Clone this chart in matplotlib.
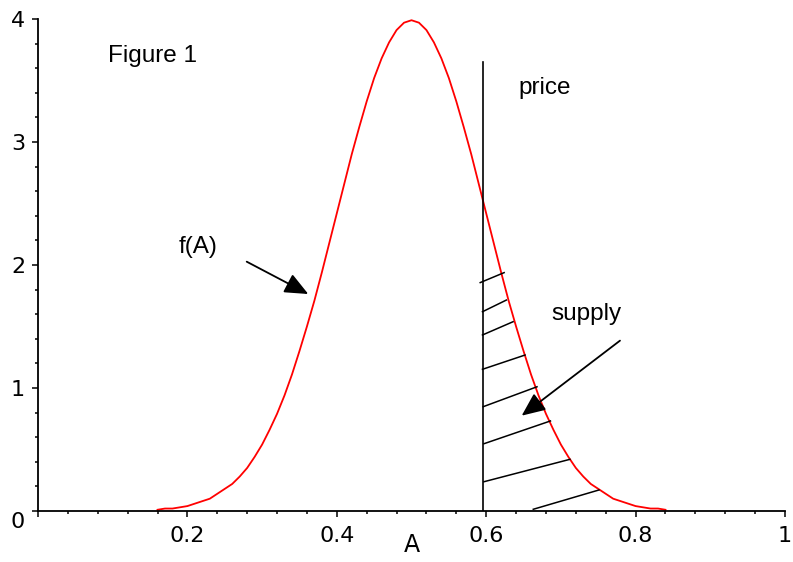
import matplotlib.pyplot as plt

# f(A), A from 0.16 to 0.84 in steps of 0.01
a_vals = [0.16, 0.17, 0.18, 0.19, 0.20, 0.21, 0.22, 0.23, 0.24, 0.25, 0.26, 0.27,
          0.28, 0.29, 0.30, 0.31, 0.32, 0.33, 0.34, 0.35, 0.36, 0.37, 0.38, 0.39,
          0.40, 0.41, 0.42, 0.43, 0.44, 0.45, 0.46, 0.47, 0.48, 0.49, 0.50,
          0.51, 0.52, 0.53, 0.54, 0.55, 0.56, 0.57, 0.58, 0.59, 0.60, 0.61, 0.62,
          0.63, 0.64, 0.65, 0.66, 0.67, 0.68, 0.69, 0.70, 0.71, 0.72, 0.73, 0.74,
          0.75, 0.76, 0.77, 0.78, 0.79, 0.80, 0.81, 0.82, 0.83, 0.84]
f_vals = [0.01, 0.02, 0.02, 0.03, 0.04, 0.06, 0.08, 0.10, 0.14, 0.18, 0.22, 0.28,
          0.35, 0.44, 0.54, 0.66, 0.79, 0.94, 1.11, 1.30, 1.50, 1.71, 1.94, 2.18,
          2.42, 2.66, 2.90, 3.12, 3.33, 3.52, 3.68, 3.81, 3.91, 3.97, 3.99,
          3.97, 3.91, 3.81, 3.68, 3.52, 3.33, 3.12, 2.90, 2.66, 2.42, 2.18, 1.94,
          1.71, 1.50, 1.30, 1.11, 0.94, 0.79, 0.66, 0.54, 0.44, 0.35, 0.28, 0.22,
          0.18, 0.14, 0.10, 0.08, 0.06, 0.04, 0.03, 0.02, 0.02, 0.01]

price = 0.596
price_top = 3.65

# hatch segments under the curve right of the price line
hatch_x0 = [0.592, 0.595, 0.595, 0.595, 0.596, 0.597, 0.597, 0.663]
hatch_y0 = [1.857, 1.620, 1.431, 1.152, 0.848, 0.547, 0.238, 0.014]
hatch_x1 = [0.624, 0.627, 0.636, 0.652, 0.668, 0.686, 0.712, 0.751]
hatch_y1 = [1.938, 1.715, 1.539, 1.268, 1.010, 0.732, 0.420, 0.171]

xtick_pos = [0, 0.2, 0.4, 0.6, 0.8, 1.0]
xtick_lab = ['', '0.2', '0.4', '0.6', '0.8', '1']
ytick_pos = [0, 1, 2, 3, 4]
ytick_lab = ['', '1', '2', '3', '4']

fig = plt.figure(figsize=(7.93, 5.62), dpi=100)
ax = fig.add_axes([38/793, 51/562, 747/793, 492/562])
ax.set_xlim(0, 1)
ax.set_ylim(0, 4)

ax.plot(a_vals, f_vals, color='#ff0000', lw=1.3, clip_on=False)
ax.plot([price, price], [0, price_top], color='black', lw=1.2)
for x0, y0, x1, y1 in zip(hatch_x0, hatch_y0, hatch_x1, hatch_y1):
    ax.plot([x0, x1], [y0, y1], color='black', lw=1.1)

arrow = dict(arrowstyle='-|>,head_length=0.8,head_width=0.35', mutation_scale=18,
             color='black', lw=1.3, shrinkA=0, shrinkB=0)
ax.annotate('', xy=(0.3618, 1.764), xytext=(0.2794, 2.027), arrowprops=arrow)
ax.annotate('', xy=(0.6475, 0.775), xytext=(0.7791, 1.385), arrowprops=arrow)

tfont = dict(family='Liberation Sans', fontsize=17.5, va='baseline', ha='left')
ax.text(0.0937, 3.653, 'Figure 1', **tfont)
ax.text(0.643, 3.388, 'price', **tfont)
ax.text(0.1878, 2.095, 'f(A)', **tfont)
ax.text(0.6877, 1.553, 'supply', **tfont)

for s in ['top', 'right']:
    ax.spines[s].set_visible(False)
for s in ['left', 'bottom']:
    ax.spines[s].set_linewidth(1.3)

ax.set_xticks(xtick_pos, xtick_lab)
ax.set_xticks([i * 0.04 for i in range(26)], minor=True)
ax.set_yticks(ytick_pos, ytick_lab)
ax.set_yticks([i * 0.2 for i in range(21)], minor=True)
ax.tick_params(axis='x', which='major', length=4.5, width=1.1, pad=6, labelsize=16)
ax.tick_params(axis='x', which='minor', length=2.5, width=1.1)
ax.tick_params(axis='y', which='major', length=4.3, width=1.1, pad=5, labelsize=16)
ax.tick_params(axis='y', which='minor', length=2.2, width=1.1)
ax.annotate('0', xy=(0, 0), xytext=(-9.4, -7.7), textcoords='offset points',
            ha='right', va='center', fontsize=16)
ax.text(0.5, -0.069, 'A', transform=ax.get_xaxis_transform(),
        ha='center', va='center', fontsize=17)

fig.savefig('out.png', dpi=100)
